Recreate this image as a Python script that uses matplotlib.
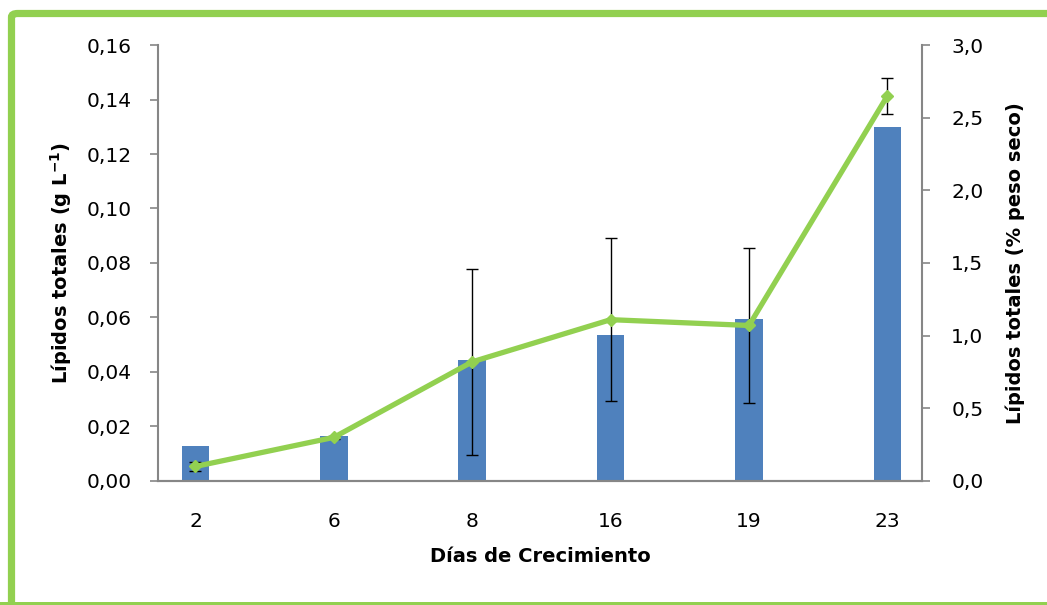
import numpy as np
import matplotlib
matplotlib.use("Agg")
import matplotlib.pyplot as plt
from matplotlib.patches import FancyBboxPatch

# growth days and measured lipids
dias = ["2", "6", "8", "16", "19", "23"]
lipidos_gL = [0.0128, 0.0165, 0.0444, 0.0536, 0.0594, 0.1299]
lipidos_pct = [0.10, 0.30, 0.82, 1.11, 1.07, 2.65]
error_pct = [0.03, 0.01, 0.64, 0.56, 0.53, 0.125]

azul = '#4F81BD'
verde = '#92D050'
gris = '#868686'

plt.rcParams['font.family'] = ['DejaVu Sans']

fig = plt.figure(figsize=(10.47, 6.05), dpi=100)
ax = fig.add_axes([0.151, 0.205, 0.7296, 0.7206])
ax2 = ax.twinx()

x = np.arange(len(dias))
ax.bar(x, lipidos_gL, width=0.2, color=azul, zorder=2)

ax2.errorbar(x, lipidos_pct, yerr=error_pct, fmt='none', ecolor='k',
             elinewidth=1.0, capsize=4.5, capthick=1.0, zorder=3)
ax2.plot(x, lipidos_pct, color=verde, lw=3.8, marker='D', ms=6,
         mfc=verde, mec=verde, zorder=4)

ax.set_xlim(-0.27, 5.25)
ax.set_ylim(0, 0.16)
ax2.set_ylim(0, 3.0)
ax.set_yticks(np.arange(0, 0.161, 0.02))
ax2.set_yticks(np.arange(0, 3.01, 0.5))
ax.yaxis.set_major_formatter(plt.FuncFormatter(lambda v, p: '{:.2f}'.format(v).replace('.', ',')))
ax2.yaxis.set_major_formatter(plt.FuncFormatter(lambda v, p: '{:.1f}'.format(v).replace('.', ',')))
ax.set_xticks(x)
ax.set_xticklabels(dias)

for a in (ax, ax2):
    a.spines['top'].set_visible(False)
    for s in ('left', 'right', 'bottom'):
        a.spines[s].set_color(gris)
        a.spines[s].set_linewidth(1.5)
    a.tick_params(axis='y', colors=gris, labelcolor='k', labelsize=14.5,
                  length=6, width=1.2)
ax.tick_params(axis='y', pad=13)
ax2.tick_params(axis='y', pad=15)
ax.tick_params(axis='x', length=0, labelsize=14.5, pad=22)
ax2.spines['left'].set_visible(False)
ax.spines['right'].set_visible(False)

ax.set_ylabel('Lípidos totales (g L$^{\\mathbf{-1}}$)', fontsize=14,
              fontweight='bold', labelpad=9)
ax2.set_ylabel('Lípidos totales (% peso seco)', fontsize=14,
               fontweight='bold', labelpad=16)
ax.set_xlabel('Días de Crecimiento', fontsize=14, fontweight='bold', labelpad=12)

# green frame around the figure
marco = FancyBboxPatch((11.5 / 1047, -0.02), 1.1, 1 - 13.5 / 605 + 0.02,
                       boxstyle='round,pad=0,rounding_size=0.006',
                       transform=fig.transFigure, fill=False,
                       edgecolor=verde, lw=5.2, clip_on=False)
fig.patches.append(marco)
fig.patches.append(plt.Rectangle((0, 0), 1, 0.0045, transform=fig.transFigure,
                                 color=verde, lw=0))

fig.savefig('out.png', dpi=100)
